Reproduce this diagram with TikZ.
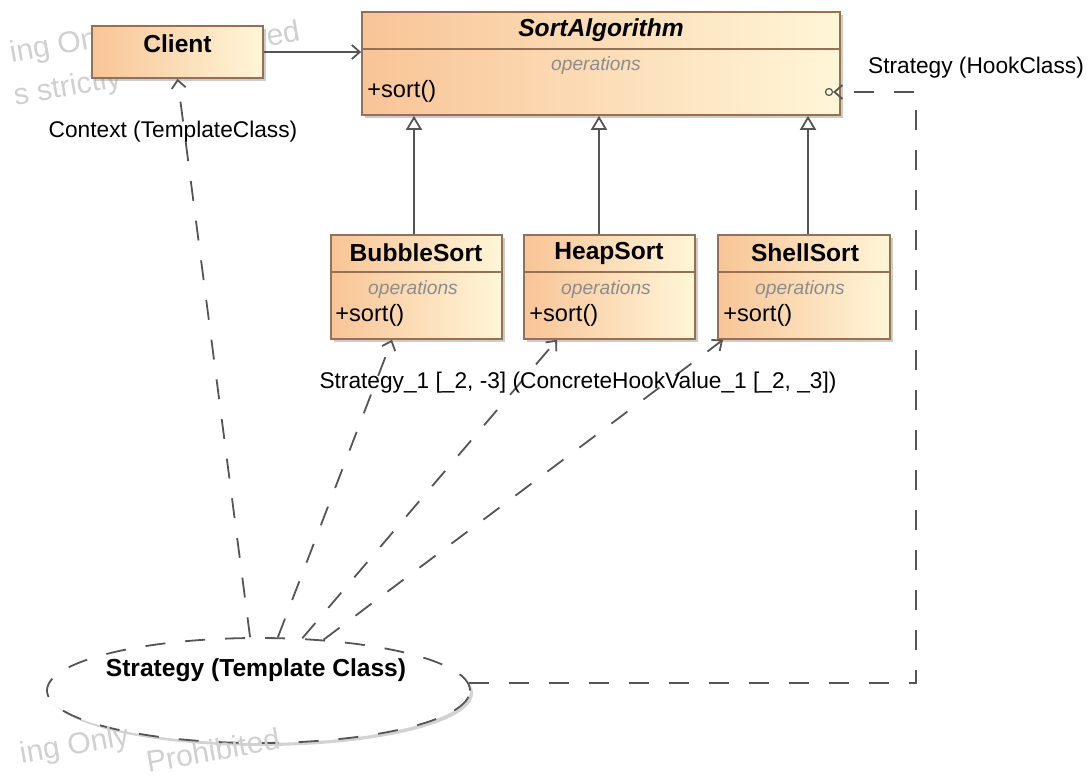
\documentclass[tikz,border=0pt]{standalone}
\usepackage{fontspec}
\setmainfont{Liberation Sans}
\usetikzlibrary{arrows.meta,shapes.geometric,shadows}

\definecolor{classleft}{RGB}{248,196,150}
\definecolor{classright}{RGB}{255,246,216}
\definecolor{classborder}{RGB}{150,112,82}
\definecolor{linegray}{RGB}{85,85,85}
\definecolor{opsgray}{RGB}{140,140,140}
\definecolor{markgray}{RGB}{208,208,208}

\tikzset{
  classbox/.style={draw=classborder, line width=0.8pt, left color=classleft, right color=classright,
    inner sep=0pt, drop shadow={shadow xshift=1.5pt, shadow yshift=-1.5pt, fill=black!40, opacity=0.5}},
  classname/.style={font=\fontsize{12.3}{14}\selectfont\bfseries, inner sep=0pt},
  abstractname/.style={font=\fontsize{12.3}{14}\selectfont\bfseries\itshape, inner sep=0pt},
  opsname/.style={font=\fontsize{9.6}{11}\selectfont\itshape, text=opsgray, inner sep=0pt},
  opentry/.style={font=\fontsize{11.8}{13}\selectfont, inner sep=0pt, anchor=west},
  tag/.style={font=\fontsize{11.35}{13}\selectfont, inner sep=0pt},
  divider/.style={draw=classborder, line width=0.8pt},
  assoc/.style={draw=linegray, line width=0.9pt, -{Straight Barb[length=4pt,width=7pt]}},
  general/.style={draw=linegray, line width=0.9pt, -{Triangle[open,length=7pt,width=8pt]}},
  depend/.style={draw=linegray, line width=0.9pt, dash pattern=on 10pt off 10pt,
    -{Straight Barb[length=4pt,width=7pt]}},
  watermark/.style={font=\fontsize{15}{17}\selectfont, text=markgray, rotate=10, inner sep=0pt, anchor=west}
}

\begin{document}
\begin{tikzpicture}[x=0.5pt,y=-0.5pt]
	\useasboundingbox (0,0) rectangle (1089,776);

	% faint watermark pieces (top ones sit under the Client box)
	\node[watermark] (mark1) at (10,55) {ing Only};
	\node[watermark] (mark2) at (266,36) {ed};
	\node[watermark] (mark3) at (14,98) {s strictly};

	% classes
	\node[classbox, minimum width=85.5pt, minimum height=26pt] (client) at (177.5,52) {};
	\node[classname] (clientname) at (177.5,44) {Client};

	\node[classbox, minimum width=239pt, minimum height=51.5pt] (sortalg) at (601,63.5) {};
	\draw[divider] ([yshift=-19pt]sortalg.north west) -- ([yshift=-19pt]sortalg.north east);
	\node[abstractname] (sortname) at (601,30) {SortAlgorithm};
	\node[opsname] (sortops) at (596,66) {operations};
	\node[opentry] (sortop) at (367,91) {+sort()};

	\node[classbox, minimum width=85.5pt, minimum height=52pt] (bubble) at (416.5,287) {};
	\draw[divider] ([yshift=-19pt]bubble.north west) -- ([yshift=-19pt]bubble.north east);
	\node[classname] (bubblename) at (416,253) {BubbleSort};
	\node[opsname] (bubbleops) at (413,290) {operations};
	\node[opentry] (bubbleop) at (335,315) {+sort()};

	\node[classbox, minimum width=85.5pt, minimum height=52pt] (heap) at (609.5,287) {};
	\draw[divider] ([yshift=-19pt]heap.north west) -- ([yshift=-19pt]heap.north east);
	\node[classname] (heapname) at (609,253) {HeapSort};
	\node[opsname] (heapops) at (606,290) {operations};
	\node[opentry] (heapop) at (529,315) {+sort()};

	\node[classbox, minimum width=86pt, minimum height=52pt] (shell) at (804,287) {};
	\draw[divider] ([yshift=-19pt]shell.north west) -- ([yshift=-19pt]shell.north east);
	\node[classname] (shellname) at (805,253) {ShellSort};
	\node[opsname] (shellops) at (800,290) {operations};
	\node[opentry] (shellop) at (723,315) {+sort()};

	% template ellipse
	\node[ellipse, draw=linegray, line width=0.9pt, dash pattern=on 10pt off 10pt, fill=white, inner sep=0pt,
		minimum width=211.5pt, minimum height=52.5pt,
		drop shadow={shadow xshift=1.5pt, shadow yshift=-1.5pt, fill=black!35, opacity=0.5}] (strat) at (258.5,690.5) {};
	\node[classname] (strattext) at (256,670) {Strategy (Template Class)};

	\node[watermark] (mark4) at (20,756) {ing Only};
	\node[watermark] (mark5) at (146,762) {Prohibited};

	\node[circle, draw=linegray, line width=0.6pt, minimum size=3.5pt, inner sep=0pt] (port) at (829,92) {};
	\coordinate (hookbend) at (916,92);

	% connectors
	\draw[assoc] (client.east) -- (client.east -| sortalg.west);
	\draw[general] ([xshift=-1.25pt]bubble.north) -- ([xshift=-1.25pt]bubble.north |- sortalg.south);
	\draw[general] ([xshift=-5.25pt]heap.north) -- ([xshift=-5.25pt]heap.north |- sortalg.south);
	\draw[general] ([xshift=2pt]shell.north) -- ([xshift=2pt]shell.north |- sortalg.south);

	\draw[depend] (strat.99) -- (client.south);
	\draw[depend] (strat.70) -- ([xshift=-12.25pt]bubble.south);
	\draw[depend] (strat.50) -- ([xshift=-26.25pt]heap.south);
	\draw[depend] (strat.38) -- ([xshift=-40.5pt]shell.south);
	\draw[depend] (strat.2) -| (hookbend) -- (port);

	% role labels
	\node[tag] (contextlabel) at (173,132) {Context (TemplateClass)};
	\node[tag] (hooklabel) at (976,68) {Strategy (HookClass)};
	\node[tag] (valuelabel) at (578,383) {Strategy\_1 [\_2, -3] (ConcreteHookValue\_1 [\_2, \_3])};
\end{tikzpicture}
\end{document}
